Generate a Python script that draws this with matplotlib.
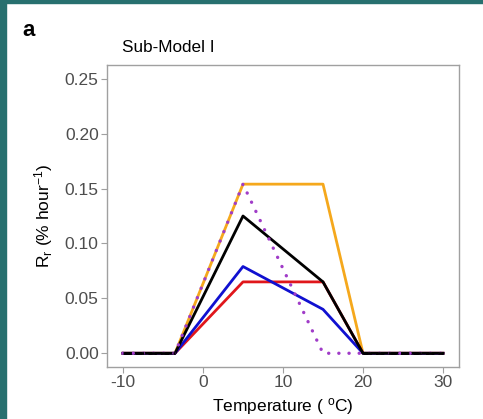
import matplotlib
matplotlib.use("Agg")
import matplotlib.pyplot as plt
from matplotlib.patches import Rectangle
import numpy as np

plt.rcParams['font.family'] = ['Liberation Sans', 'DejaVu Sans']

temp = [-10, -3.5, 5, 15, 20, 30]
yellow = [0, 0, 0.154, 0.154, 0, 0]
black = [0, 0, 0.125, 0.065, 0, 0]
red = [0, 0, 0.065, 0.065, 0, 0]
blue = [0, 0, 0.079, 0.040, 0, 0]
purple = [0, 0, 0.154, 0, 0, 0]
flat_x = [-10, -3.5, np.nan, 20, 30]
flat_y = [0, 0, np.nan, 0, 0]

xticks = [-10, 0, 10, 20, 30]
yticks = [0.00, 0.05, 0.10, 0.15, 0.20, 0.25]
ytick_labels = ["0.00", "0.05", "0.10", "0.15", "0.20", "0.25"]

W, H = 483, 419
fig = plt.figure(figsize=(W / 100, H / 100), dpi=100)
fig.patch.set_facecolor('white')
# teal frame strips
fig.add_artist(Rectangle((0, 0), 6 / W, 1, transform=fig.transFigure, color='#27706f', zorder=0))
fig.add_artist(Rectangle((0, 1 - 3 / H), 1, 3 / H, transform=fig.transFigure, color='#27706f', zorder=0))

ax = fig.add_axes([107 / W, 1 - 367 / H, (459 - 107) / W, (367 - 65) / H])

lw = 2.0
ax.plot(temp, yellow, color='#F5A81C', lw=lw, zorder=2)
ax.plot(temp, red, color='#E0161B', lw=lw, zorder=3)
ax.plot(temp, blue, color='#1010D0', lw=lw, zorder=4)
ax.plot(temp, black, color='black', lw=lw, zorder=5)
ax.plot(temp, purple, color='#A03CC8', lw=2.4, linestyle=(0, (0.05, 3.0)), dash_capstyle='round', zorder=6)
ax.plot(flat_x, flat_y, color='black', lw=2.0, linestyle=(0, (3, 1.5)), zorder=7)

ax.set_xlim(-12, 32)
ax.set_ylim(-0.0125, 0.2625)
ax.set_xticks(xticks)
ax.set_xticklabels([str(v) for v in xticks])
ax.set_yticks(yticks)
ax.set_yticklabels(ytick_labels)

for s in ax.spines.values():
    s.set_color('#A0A0A0')
    s.set_linewidth(1.0)
ax.tick_params(axis='both', colors='#4D4D4D', labelsize=12.5, length=4, width=0.8, pad=2)
ax.tick_params(axis='both', color='#A0A0A0')

ax.set_xlabel('Temperature ( $\\mathregular{^{o}}$C)', fontsize=12.5, labelpad=4)
ax.set_ylabel('R$\\mathregular{_r}$ (% hour$\\mathregular{^{-1}}$)', fontsize=12.5, labelpad=7)

fig.text(122 / W, 1 - 47 / H, 'Sub-Model I', fontsize=12.3, ha='left', va='center')
fig.text(22 / W, 1 - 31 / H, 'a', fontsize=16, fontweight='bold', ha='left', va='center')

fig.savefig('out.png', dpi=100)
